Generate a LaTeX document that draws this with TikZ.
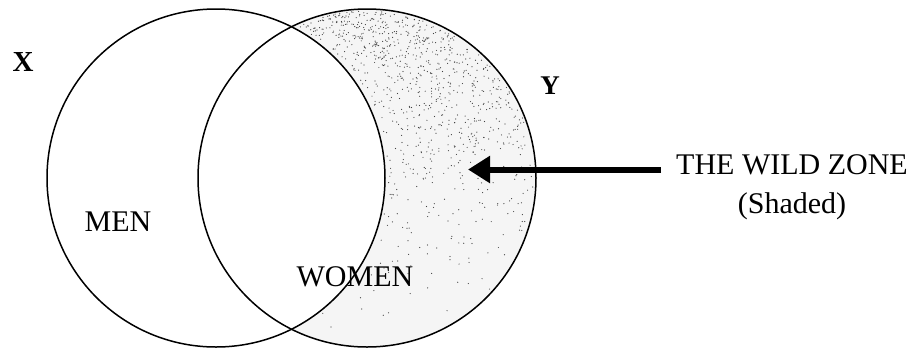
\documentclass[tikz,border=0pt]{standalone}
\usepackage{fontspec}
\setmainfont{Liberation Serif}
\usetikzlibrary{arrows.meta}
\begin{document}
\begin{tikzpicture}[x=1pt,y=-1pt,
  ring/.style={line width=1.5pt},
  lbl/.style={font=\fontsize{30}{33}\selectfont, inner sep=0pt},
  speck/.style={fill=black!75}]
\useasboundingbox (0,0) rectangle (914,349);
% shaded crescent (wild zone)
\begin{scope}
  \clip (367,178) circle[radius=169pt];
  \fill[black!4, even odd rule] (216,178) circle[radius=169pt] (0,0) rectangle (914,349);
  \pgfmathsetseed{11}
  \foreach \i in {1,...,1800}{
    \pgfmathsetmacro{\px}{290+250*rnd}
    \pgfmathsetmacro{\py}{9+340*rnd*rnd}
    \pgfmathtruncatemacro{\ok}{and(((\px-367)/10)^2+((\py-178)/10)^2<16.7^2, ((\px-216)/10)^2+((\py-178)/10)^2>17.2^2)}
    \ifnum\ok=1 \fill[speck] (\px,\py) circle[radius=0.6pt]; \fi
  }
\end{scope}
\draw[ring] (216,178) circle[radius=169pt];
\draw[ring] (367,178) circle[radius=169pt];
\node[lbl, font=\fontsize{29}{32}\selectfont\bfseries] (x) at (23,62) {X};
\node[lbl, font=\fontsize{27}{30}\selectfont\bfseries] (y) at (550,86) {Y};
\node[lbl] (men) at (118,222) {MEN};
\node[lbl] (women) at (355,277) {WOMEN};
\node[lbl, anchor=west] (wild) at (676,165) {THE WILD ZONE};
\node[lbl] (shaded) at (792,206) {(Shaded)};
\coordinate (tip) at (468,169.5);
\draw[line width=6pt, -{Triangle[length=22pt,width=26pt]}] (wild.west) ++(-15,4.5) coordinate (tail) (tail) -- (tip);
\end{tikzpicture}
\end{document}
